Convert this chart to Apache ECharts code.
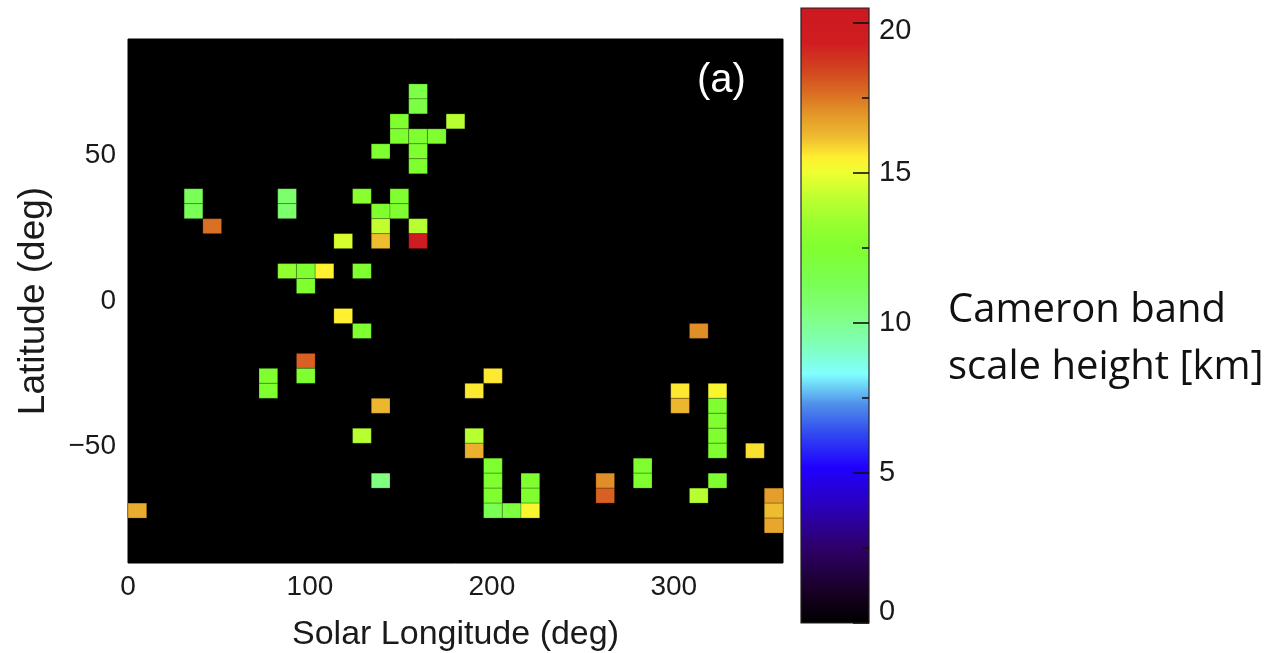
<!DOCTYPE html>
<html><head><meta charset="utf-8">
<script src="https://cdn.jsdelivr.net/npm/echarts@6/dist/echarts.min.js"></script>
<style>html,body{margin:0;padding:0;background:#fff}#c{width:1282px;height:653px}</style>
</head><body><div id="c"></div>
<script>
// ---- data ----
const lonRange = [0, 360];
const latRange = [-90, 90];
const nLonBins = 35;
const nLatBins = 35;
const xTicks = [0, 100, 200, 300];
const yTicks = [-50, 0, 50];
const cbTicks = [0, 5, 10, 15, 20];
const cbMinorTicks = [2.5, 7.5, 12.5, 17.5];
const cbRange = [0, 20.5];
// cells: column index (from 0 deg Ls), row index (from +90 lat downward), scale height [km]
const cellCol = [3,3,4,8,8,12,13,14,14,13,13,15,15,11,13,14,14,15,15,15,15,15,16,17,8,9,10,9,12,11,12,9,9,7,7,13,12,13,0,19,18,18,18,19,19,19,19,20,21,21,21,25,25,27,27,30,29,29,31,31,31,31,31,33,31,30,34,34,34];
const cellRow = [10,11,12,10,11,10,11,10,11,12,13,12,13,13,7,5,6,3,4,6,7,8,6,5,15,15,15,16,15,18,19,21,22,22,23,24,26,29,31,22,23,26,27,28,29,30,31,31,29,30,31,29,30,28,29,19,23,24,23,24,25,26,27,27,29,30,30,31,32];
const cellVal = [11.2,11.2,17.6,10.8,10.8,12.8,12.5,12.5,12.5,14.2,16.2,14.0,19.6,14.6,12.5,12.5,12.5,11.8,11.8,12.5,12.5,12.5,12.5,14.0,13.0,12.5,15.5,12.5,12.5,15.5,12.5,17.9,12.5,12.5,12.5,16.3,14.0,10.3,16.5,15.6,15.6,14.0,16.4,12.5,12.5,12.5,11.3,12.0,12.5,12.5,15.3,17.1,17.9,12.5,12.5,17.1,15.6,16.3,15.3,12.5,12.5,12.5,12.5,15.7,12.5,14.0,16.8,16.2,16.6];

// ---- colormap (value stop, colour) ----
const cmapStops = [[0,'#000000'],[1,'#170022'],[2.5,'#2e0068'],[4,'#2a00c0'],[5.2,'#2000ff'],[6.3,'#3048f0'],[7.3,'#5090ea'],[8.3,'#80ffff'],[9.3,'#80ffb8'],[10.3,'#80ff80'],[11.3,'#7aff55'],[12.5,'#80ff30'],[13.3,'#98ff30'],[14.2,'#c0ff30'],[15.0,'#eeff30'],[15.5,'#fff030'],[16.2,'#eebb30'],[17.0,'#e29428'],[17.7,'#d96a22'],[18.5,'#d24020'],[19.3,'#d01e20'],[20.5,'#cc1820']];
function hex(c){return [parseInt(c.slice(1,3),16),parseInt(c.slice(3,5),16),parseInt(c.slice(5,7),16)];}
function cmapAt(v){
  for(let i=0;i<cmapStops.length-1;i++){
    const a=cmapStops[i],b=cmapStops[i+1];
    if(v<=b[0]){const t=(v-a[0])/(b[0]-a[0]);const ca=hex(a[1]),cb=hex(b[1]);
      return 'rgb('+ca.map((x,k)=>Math.round(x+(cb[k]-x)*t)).join(',')+')';}
  }
  return cmapStops[cmapStops.length-1][1];
}
const cmap=[];
for(let k=0;k<=164;k++){cmap.push(cmapAt(cbRange[0]+(cbRange[1]-cbRange[0])*k/164));}
const cbGradStops=cmapStops.map(s=>({offset:(s[0]-cbRange[0])/(cbRange[1]-cbRange[0]),color:s[1]}));

const dLon=(lonRange[1]-lonRange[0])/nLonBins;
const dLat=(latRange[1]-latRange[0])/nLatBins;
const cells=cellCol.map((c,i)=>[lonRange[0]+(c+0.5)*dLon, latRange[1]-(cellRow[i]+0.5)*dLat, cellVal[i]]);

const FONT='Liberation Sans';
const TXT='#1a1a1a';
function tickSeries(vals,len){
  return {type:'custom',coordinateSystem:'cartesian2d',xAxisIndex:1,yAxisIndex:1,z:5,silent:true,
    data:vals.map(v=>[1,v]),encode:{x:0,y:1},
    renderItem:(p,api)=>{const c=api.coord([api.value(0),api.value(1)]);
      return {type:'line',shape:{x1:c[0]-len,y1:c[1],x2:c[0],y2:c[1]},style:{stroke:'#111',lineWidth:1.6}};}};
}
const cbLabelStyle={fontSize:29,color:TXT,fontFamily:FONT};
const chart=echarts.init(document.getElementById('c'),null,{renderer:'canvas'});
chart.setOption({
  animation:false,
  grid:[
    {left:128,top:39,width:655,height:524,outerBoundsMode:'none',containLabel:false,show:true,backgroundColor:'#000',borderColor:'#000',borderWidth:1},
    {left:801,top:8,width:68,height:615,outerBoundsMode:'none',containLabel:false,show:false}
  ],
  xAxis:[
    {gridIndex:0,type:'value',min:lonRange[0],max:lonRange[1],
     axisLine:{show:false},axisTick:{show:false},splitLine:{show:false},
     axisLabel:{customValues:xTicks,fontSize:28,color:TXT,fontFamily:FONT,margin:10},
     name:'Solar Longitude (deg)',nameLocation:'middle',nameGap:55,
     nameTextStyle:{fontSize:34,color:TXT,fontFamily:FONT}},
    {gridIndex:1,type:'value',min:0,max:1,show:false}
  ],
  yAxis:[
    {gridIndex:0,type:'value',min:latRange[0],max:latRange[1],
     axisLine:{show:false},axisTick:{show:false},splitLine:{show:false},
     axisLabel:{customValues:yTicks,fontSize:28,color:TXT,fontFamily:FONT,margin:12,
       formatter:v=>String(v).replace('-','\u2212')},
     name:'Latitude (deg)',nameLocation:'middle',nameGap:76,nameRotate:90,
     nameTextStyle:{fontSize:37,color:TXT,fontFamily:FONT}},
    {gridIndex:1,type:'value',min:cbRange[0],max:cbRange[1],position:'right',
     axisLine:{show:false},splitLine:{show:false},axisTick:{show:false},
     axisLabel:{customValues:cbTicks,margin:10,...cbLabelStyle,
       formatter:v=>v===cbTicks[cbTicks.length-1]?'{t|'+v+'}':(v===cbTicks[0]?'{b|'+v+'}':String(v)),
       rich:{t:{...cbLabelStyle,padding:[16,0,0,0]},b:{...cbLabelStyle,padding:[0,0,22,0]}}}}
  ],
  visualMap:{
    type:'continuous',min:cbRange[0],max:cbRange[1],dimension:2,seriesIndex:0,
    show:false,inRange:{color:cmap}
  },
  graphic:[
    {type:'text',left:697,top:61,z:20,style:{text:'(a)',fill:'#fff',fontSize:40,fontFamily:FONT}},
    {type:'text',left:948,top:282,z:20,style:{text:'Cameron band\nscale height [km]',fill:'#111',fontSize:40,fontFamily:'Open Sans',lineHeight:57}}
  ],
  series:[{
    type:'custom',coordinateSystem:'cartesian2d',xAxisIndex:0,yAxisIndex:0,
    data:cells,encode:{x:0,y:1},
    renderItem:(params,api)=>{
      const c=api.coord([api.value(0),api.value(1)]);
      const s=api.size([dLon,dLat]);
      return {type:'rect',shape:{x:c[0]-s[0]/2,y:c[1]-s[1]/2,width:s[0],height:s[1]},
        style:{fill:api.visual('color'),stroke:'rgba(0,0,0,0.2)',lineWidth:1}};
    }
  },{
    type:'custom',coordinateSystem:'cartesian2d',xAxisIndex:1,yAxisIndex:1,z:1,silent:true,
    data:[[0,cbRange[0]],[1,cbRange[1]]],encode:{x:0,y:1},
    renderItem:(p,api)=>{
      if(p.dataIndex!==0) return null;
      const a=api.coord([0,cbRange[0]]), b=api.coord([1,cbRange[1]]);
      return {type:'rect',shape:{x:a[0],y:b[1],width:b[0]-a[0],height:a[1]-b[1]},
        style:{fill:new echarts.graphic.LinearGradient(0,1,0,0,cbGradStops),stroke:'#222',lineWidth:1.2}};
    }
  },
  tickSeries(cbTicks,16),
  tickSeries(cbMinorTicks,7)
  ]
});
</script></body></html>
